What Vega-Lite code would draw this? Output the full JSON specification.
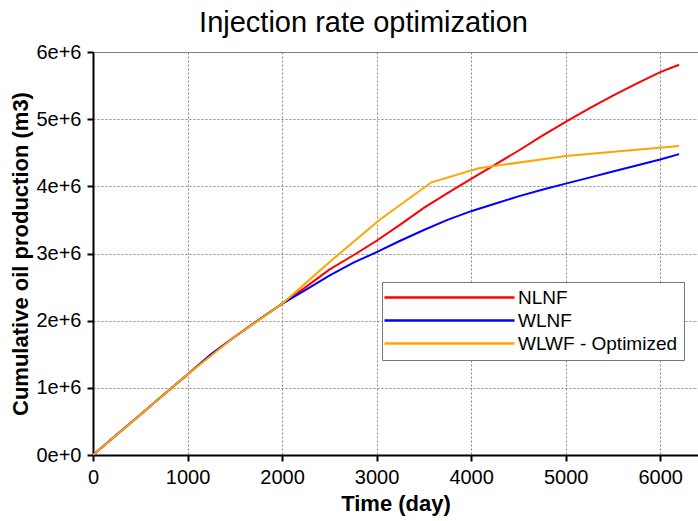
{
  "$schema": "https://vega.github.io/schema/vega-lite/v6.json",
  "width": 605,
  "height": 403,
  "autosize": {"type": "none"},
  "padding": {"left": 93, "top": 52, "right": 0, "bottom": 66},
  "background": "white",
  "title": {
    "text": "Injection rate optimization",
    "font": "Liberation Sans",
    "fontSize": 29,
    "fontWeight": "normal",
    "color": "black",
    "anchor": "middle",
    "dx": -32,
    "offset": 4
  },
  "config": {
    "view": {"stroke": "#777777", "strokeWidth": 1},
    "font": "Liberation Sans"
  },
  "data": {
    "values": [
      {"t": 0, "v": 0, "s": "NLNF"},
      {"t": 250, "v": 300000, "s": "NLNF"},
      {"t": 500, "v": 600000, "s": "NLNF"},
      {"t": 750, "v": 900000, "s": "NLNF"},
      {"t": 1000, "v": 1200000, "s": "NLNF"},
      {"t": 1250, "v": 1500000, "s": "NLNF"},
      {"t": 1500, "v": 1760000, "s": "NLNF"},
      {"t": 1750, "v": 2010000, "s": "NLNF"},
      {"t": 2000, "v": 2250000, "s": "NLNF"},
      {"t": 2250, "v": 2500000, "s": "NLNF"},
      {"t": 2500, "v": 2760000, "s": "NLNF"},
      {"t": 2750, "v": 2970000, "s": "NLNF"},
      {"t": 3000, "v": 3190000, "s": "NLNF"},
      {"t": 3250, "v": 3430000, "s": "NLNF"},
      {"t": 3500, "v": 3680000, "s": "NLNF"},
      {"t": 3750, "v": 3900000, "s": "NLNF"},
      {"t": 4000, "v": 4110000, "s": "NLNF"},
      {"t": 4250, "v": 4320000, "s": "NLNF"},
      {"t": 4500, "v": 4530000, "s": "NLNF"},
      {"t": 4750, "v": 4750000, "s": "NLNF"},
      {"t": 5000, "v": 4960000, "s": "NLNF"},
      {"t": 5250, "v": 5160000, "s": "NLNF"},
      {"t": 5500, "v": 5350000, "s": "NLNF"},
      {"t": 5750, "v": 5530000, "s": "NLNF"},
      {"t": 6000, "v": 5700000, "s": "NLNF"},
      {"t": 6200, "v": 5810000, "s": "NLNF"},
      {"t": 0, "v": 0, "s": "WLNF"},
      {"t": 250, "v": 300000, "s": "WLNF"},
      {"t": 500, "v": 600000, "s": "WLNF"},
      {"t": 750, "v": 900000, "s": "WLNF"},
      {"t": 1000, "v": 1200000, "s": "WLNF"},
      {"t": 1250, "v": 1500000, "s": "WLNF"},
      {"t": 1500, "v": 1760000, "s": "WLNF"},
      {"t": 1750, "v": 2010000, "s": "WLNF"},
      {"t": 2000, "v": 2250000, "s": "WLNF"},
      {"t": 2250, "v": 2460000, "s": "WLNF"},
      {"t": 2500, "v": 2670000, "s": "WLNF"},
      {"t": 2750, "v": 2860000, "s": "WLNF"},
      {"t": 3000, "v": 3020000, "s": "WLNF"},
      {"t": 3250, "v": 3190000, "s": "WLNF"},
      {"t": 3500, "v": 3350000, "s": "WLNF"},
      {"t": 3750, "v": 3500000, "s": "WLNF"},
      {"t": 4000, "v": 3630000, "s": "WLNF"},
      {"t": 4250, "v": 3740000, "s": "WLNF"},
      {"t": 4500, "v": 3850000, "s": "WLNF"},
      {"t": 4750, "v": 3950000, "s": "WLNF"},
      {"t": 5000, "v": 4040000, "s": "WLNF"},
      {"t": 5250, "v": 4130000, "s": "WLNF"},
      {"t": 5500, "v": 4220000, "s": "WLNF"},
      {"t": 5750, "v": 4310000, "s": "WLNF"},
      {"t": 6000, "v": 4400000, "s": "WLNF"},
      {"t": 6200, "v": 4480000, "s": "WLNF"},
      {"t": 0, "v": 0, "s": "WLWF - Optimized"},
      {"t": 500, "v": 600000, "s": "WLWF - Optimized"},
      {"t": 1000, "v": 1200000, "s": "WLWF - Optimized"},
      {"t": 1500, "v": 1760000, "s": "WLWF - Optimized"},
      {"t": 2000, "v": 2250000, "s": "WLWF - Optimized"},
      {"t": 2500, "v": 2870000, "s": "WLWF - Optimized"},
      {"t": 3030, "v": 3500000, "s": "WLWF - Optimized"},
      {"t": 3580, "v": 4060000, "s": "WLWF - Optimized"},
      {"t": 4080, "v": 4270000, "s": "WLWF - Optimized"},
      {"t": 5000, "v": 4450000, "s": "WLWF - Optimized"},
      {"t": 6200, "v": 4600000, "s": "WLWF - Optimized"}
    ]
  },
  "mark": {"type": "line", "strokeWidth": 2, "clip": true},
  "encoding": {
    "x": {
      "field": "t",
      "type": "quantitative",
      "scale": {"domain": [0, 6400], "nice": false, "zero": false},
      "axis": {
        "title": "Time (day)",
        "values": [0, 1000, 2000, 3000, 4000, 5000, 6000],
        "format": "d",
        "labelFont": "Liberation Sans",
        "labelFontSize": 20,
        "labelColor": "black",
        "labelPadding": 6,
        "labelFlush": false,
        "titleFont": "Liberation Sans",
        "titleFontSize": 22,
        "titleFontWeight": "bold",
        "titleColor": "black",
        "titlePadding": 6,
        "domainColor": "black",
        "domainWidth": 2,
        "tickColor": "black",
        "tickWidth": 2,
        "tickSize": 6,
        "grid": true,
        "gridColor": "#888888",
        "gridDash": [2, 2],
        "gridWidth": 1
      }
    },
    "y": {
      "field": "v",
      "type": "quantitative",
      "scale": {"domain": [0, 6000000], "nice": false, "zero": true},
      "axis": {
        "title": "Cumulative oil production (m3)",
        "values": [0, 1000000, 2000000, 3000000, 4000000, 5000000, 6000000],
        "format": ".0e",
        "labelFont": "Liberation Sans",
        "labelFontSize": 20,
        "labelColor": "black",
        "labelPadding": 6,
        "labelFlush": false,
        "titleFont": "Liberation Sans",
        "titleFontSize": 22,
        "titleFontWeight": "bold",
        "titleColor": "black",
        "titlePadding": 3,
        "domainColor": "black",
        "domainWidth": 2,
        "tickColor": "black",
        "tickWidth": 2,
        "tickSize": 6,
        "grid": true,
        "gridColor": "#888888",
        "gridDash": [2, 2],
        "gridWidth": 1
      }
    },
    "color": {
      "field": "s",
      "type": "nominal",
      "scale": {
        "domain": ["NLNF", "WLNF", "WLWF - Optimized"],
        "range": ["#ff0000", "#0000ff", "#ffa500"]
      },
      "legend": {
        "title": null,
        "orient": "none",
        "legendX": 289,
        "legendY": 230,
        "padding": 6,
        "fillColor": "white",
        "strokeColor": "#777777",
        "symbolType": "M-2,0H18",
        "symbolSize": 169,
        "symbolStrokeWidth": 2.5,
        "labelOffset": 111,
        "labelFont": "Liberation Sans",
        "labelFontSize": 19,
        "labelColor": "black",
        "labelLimit": 300,
        "rowPadding": 3
      }
    }
  }
}
